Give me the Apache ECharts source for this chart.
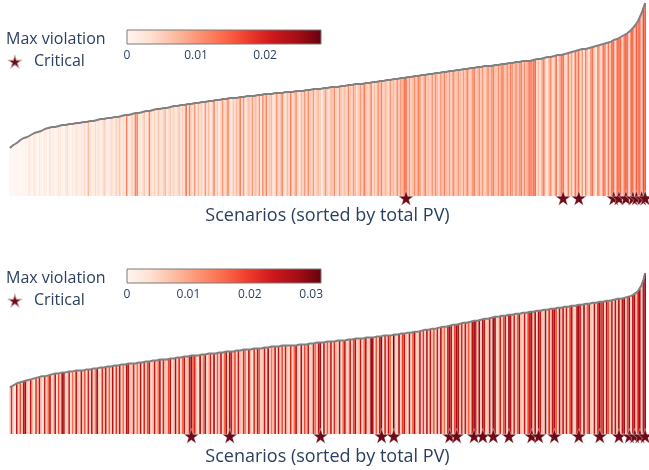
<!DOCTYPE html>
<html><head><meta charset="utf-8">
<script src="https://cdn.jsdelivr.net/npm/echarts@6/dist/echarts.min.js"></script>
<style>html,body{margin:0;padding:0;background:#fff}#c{width:649px;height:470px}</style>
</head><body><div id="c"></div>
<script>
// ---- Top panel: total PV per scenario (sorted), read as relative heights ----
const pvTop = [
48,50,51,52,53,55,56,57,58,59,
59,60,61,62,63,63,64,65,65,66,
67,67,68,68,69,69,69,70,70,70,
71,71,71,72,72,72,72,73,73,73,
73,74,74,74,74,75,75,75,75,76,
76,76,77,77,77,77,78,78,78,78,
79,79,79,80,80,80,81,81,81,82,
82,82,83,83,83,84,84,84,85,85,
85,86,86,86,87,87,87,88,88,88,
88,89,89,89,90,90,90,91,91,91,
91,92,92,92,92,93,93,93,93,94,
94,94,94,95,95,95,95,96,96,96,
96,96,97,97,97,97,98,98,98,98,
98,99,99,99,99,99,100,100,100,100,
100,101,101,101,101,101,102,102,102,102,
102,102,103,103,103,103,103,104,104,104,
104,104,104,104,105,105,105,105,105,106,
106,106,106,106,107,107,107,107,107,108,
108,108,108,108,109,109,109,109,109,110,
110,110,110,110,111,111,111,111,112,112,
112,112,112,113,113,113,113,114,114,114,
114,114,115,115,115,115,116,116,116,116,
117,117,117,117,118,118,118,118,119,119,
119,119,120,120,120,120,121,121,121,121,
122,122,122,122,123,123,123,123,124,124,
124,124,125,125,125,125,126,126,126,126,
127,127,127,127,128,128,128,128,129,129,
129,129,130,130,130,130,130,131,131,131,
131,131,132,132,132,132,133,133,133,133,
134,134,134,134,135,135,135,135,135,136,
136,136,137,137,137,138,138,138,139,139,
139,140,140,140,141,141,141,142,142,143,
143,143,144,144,145,145,146,146,147,147,
147,148,148,149,149,150,150,151,151,152,
152,153,153,154,154,155,156,156,157,158,
159,160,161,162,163,164,166,168,170,172,
175,179,183,188,193];
// Max violation per scenario, in units of 0.001
const violTopMilli = [
0,0,0,0,0,0,0,0,0,1, 0,2,1,0,3,1,0,2,1,0,
2,1,0,3,1,2,0,1,3,2, 1,0,2,4,1,0,2,1,3,2,
1,3,2,4,1,7,3,2,1,4, 2,3,1,2,5,3,1,2,4,3,
2,5,3,6,2,4,3,12,2,3, 5,4,12,11,3,2,4,6,3,2,
12,4,3,5,2,6,4,3,5,7, 2,4,6,3,5,2,4,6,3,5,
4,13,2,12,5,4,10,2,7,4, 5,2,10,4,7,2,5,11,4,6,
2,5,10,4,6,11,5,2,6,4, 7,5,12,4,10,2,5,7,4,10,
5,7,4,10,2,11,5,12,4,6, 7,2,5,10,4,6,11,5,2,7,
5,12,4,6,10,5,2,7,5,10, 4,11,6,5,10,4,6,7,5,2,
6,10,5,4,7,6,11,5,4,10, 6,5,7,4,11,6,5,10,7,4,
6,10,5,12,7,5,6,11,4,7, 5,10,6,12,5,7,6,4,10,6,
7,5,11,6,10,7,13,14,6,10, 5,7,11,6,12,10,5,7,12,6,
7,5,10,6,11,7,5,10,6,12, 7,6,10,5,11,7,6,10,7,5,
10,6,11,7,5,10,12,6,7,11, 6,10,5,7,11,6,10,12,7,6,
11,7,12,10,6,11,7,12,10,6, 11,7,10,12,6,11,7,10,13,11,
13,14,4,7,3,9,12,5,3,8, 11,4,6,13,3,8,13,13,5,4,
12,5,9,3,13,8,13,4,10,3, 12,6,4,11,13,5,3,12,8,4,
13,12,4,13,6,14,14,4,13,14, 14,5,12,15,13,4,14,14,6,15, 12,14,5,16,15];
const criticalTop = [227,317,326,346,349,353,357,359,362,364];

// ---- Bottom panel ----
const pvBottom = [
47,48,49,50,51,52,52,53,53,54,
54,55,55,56,56,57,57,57,58,58,
58,59,59,60,60,60,61,61,61,61,
62,62,62,62,63,63,63,63,64,64,
64,64,64,65,65,65,65,66,66,66,
66,66,67,67,67,67,68,68,68,68,
69,69,69,69,70,70,70,70,71,71,
71,71,71,72,72,72,72,73,73,73,
73,73,74,74,74,74,75,75,75,75,
75,76,76,76,76,77,77,77,77,78,
78,78,78,78,79,79,79,79,79,80,
80,80,80,80,81,81,81,81,81,82,
82,82,82,82,83,83,83,83,83,84,
84,84,84,84,85,85,85,85,85,86,
86,86,86,86,86,87,87,87,87,87,
88,88,88,88,88,89,89,89,89,89,
89,89,89,89,89,90,90,90,90,90,
90,91,91,91,91,91,92,92,92,92,
92,92,93,93,93,93,93,94,94,94,
94,94,94,95,95,95,95,95,96,96,
96,96,96,96,97,97,97,97,97,98,
98,98,98,98,99,99,99,99,99,100,
100,100,100,101,101,101,101,102,102,102,
102,103,103,103,103,104,104,104,105,105,
105,105,106,106,106,107,107,107,108,108,
108,109,109,109,110,110,110,111,111,111,
112,112,112,113,113,113,114,114,114,115,
115,115,116,116,116,117,117,117,118,118,
118,118,119,119,119,119,120,120,120,120,
121,121,121,121,122,122,122,122,123,123,
123,123,124,124,124,124,125,125,125,125,
126,126,126,126,127,127,127,127,128,128,
128,128,129,129,129,129,130,130,130,130,
131,131,131,131,132,132,132,132,133,133,
133,133,134,134,134,135,135,135,136,136,
136,137,137,138,138,139,139,140,141,142,
144,146,150,155,162];
const violBottomMilli = [
4,22,6,3,25,5,18,7,26,27, 6,5,24,8,4,20,6,25,7,3,
23,6,15,26,5,8,24,4,19,6, 27,25,5,7,22,4,16,6,24,8,
5,26,7,18,4,23,6,25,5,14, 27,6,4,22,8,24,5,17,6,26,
4,21,7,25,6,16,5,27,24,6, 8,23,5,15,7,26,4,22,6,18,
25,5,7,24,6,14,26,4,23,8, 6,19,25,5,7,27,6,21,4,16,
24,6,8,25,28,17,22,7,4,26, 6,15,25,5,8,23,6,27,4,18,
7,24,5,16,26,6,27,23,8,19, 5,25,7,6,22,14,5,26,8,4,
21,6,25,17,5,7,24,6,27,5, 15,8,23,4,26,6,18,5,24,7,
6,22,5,16,25,7,4,27,6,19, 8,24,5,6,23,15,7,26,28,4,
25,6,18,7,24,5,22,8,6,27, 4,16,25,6,7,23,5,19,26,6,
7,24,5,15,26,6,8,28,27,5, 18,6,24,29,4,22,6,25,16,5,
31,7,6,26,5,19,24,8,4,25, 6,17,27,5,7,24,6,21,5,26,
6,25,7,18,5,24,6,27,8,16, 5,23,28,25,6,19,28,26,7,22,
5,24,8,17,6,26,28,23,7,28, 6,27,24,5,8,25,6,28,27,5,
7,23,6,18,25,5,28,26,6,22, 5,17,27,7,6,24,5,19,25,27,
8,26,5,28,24,7,6,28,5,21, 7,25,27,18,5,27,8,23,6,24,
5,19,26,7,6,25,28,22,5,27, 6,17,24,7,5,26,6,23,28,20,
25,6,27,18,7,24,5,26,8,28, 6,25,28,7,19,28,5,24,27,8, 23,28,6,25,28];
const criticalBottom = [104,126,178,213,220,252,256,266,271,277,286,299,303,312,326,338,349,355,358,361,364];

// colour bar ranges (max violation) and ticks
const colorMaxTop = 0.0281;
const colorMaxBottom = 0.0316;
const colorTickStep = 0.01;
const axisTitle = 'Scenarios (sorted by total PV)';
const legendTitle = 'Max violation';
const criticalLabel = 'Critical';

const REDS = ['rgb(255,245,240)','rgb(254,224,210)','rgb(252,187,161)','rgb(252,146,114)','rgb(251,106,74)','rgb(239,59,44)','rgb(203,24,29)','rgb(165,15,21)','rgb(103,0,13)'];
const STAR = 'path://M50,0 L61.2,34.5 L97.6,34.5 L68.2,55.9 L79.4,90.5 L50,69.1 L20.6,90.5 L31.8,55.9 L2.4,34.5 L38.8,34.5 Z';
const TXT = '#2a3f5f';
const FONT = '"Open Sans", Verdana, Arial, sans-serif';

const gradient = {type:'linear', x:0, y:0, x2:1, y2:0,
  colorStops: REDS.map((c,i)=>({offset:i/(REDS.length-1), color:c}))};

function mainAxes(gi, n, gap) {
  return {
    x: {type:'category', gridIndex:gi, data: Array.from({length:n},(_,i)=>String(i)),
        boundaryGap:true, axisLine:{show:false}, axisTick:{show:false}, axisLabel:{show:false},
        splitLine:{show:false}, name: axisTitle, nameLocation:'middle', nameGap: gap,
        nameTextStyle:{fontSize:18, color:TXT, fontFamily:FONT}},
    y: {type:'value', gridIndex:gi, show:false, min:0, max:'dataMax'}
  };
}
function cbAxes(gi, max) {
  return {
    x: {type:'value', gridIndex:gi, min:0, max:max, interval:colorTickStep,
        axisLine:{show:false}, axisTick:{show:false}, splitLine:{show:false},
        axisLabel:{show:true, showMaxLabel:false, showMinLabel:true, fontSize:12, color:TXT, fontFamily:FONT, margin:6,
                   formatter: v => String(+v.toFixed(3))}},
    y: {type:'value', gridIndex:gi, show:false, min:0, max:1}
  };
}
function panelSeries(gi, pv, viol, crit) {
  return [
    {type:'bar', xAxisIndex:gi, yAxisIndex:gi, data: pv.map((v,i)=>[i, v, viol[i]]),
     encode:{x:0, y:1}, barWidth:'100%', barCategoryGap:'0%', z:2, large:false},
    {type:'line', xAxisIndex:gi, yAxisIndex:gi, data: pv, symbol:'none', showSymbol:false,
     lineStyle:{color:'#808080', width:2}, itemStyle:{color:'#808080'}, z:3},
    {type:'scatter', name:criticalLabel, xAxisIndex:gi, yAxisIndex:gi, data: crit.map(i=>[i, 0]),
     symbol:STAR, symbolSize:15, symbolOffset:[0,2],
     itemStyle:{color:'#6d0a16', borderColor:'rgba(255,255,255,0.6)', borderWidth:0.6, opacity:1}, z:4}
  ];
}

const a0 = mainAxes(0, pvTop.length, 11);
const a1 = mainAxes(1, pvBottom.length, 14);
const c0 = cbAxes(2, colorMaxTop);
const c1 = cbAxes(3, colorMaxBottom);

const chart = echarts.init(document.getElementById('c'), null, {renderer:'canvas'});
chart.setOption({
  animation:false,
  backgroundColor:'#fff',
  textStyle:{fontFamily:FONT},
  title:[
    {text:legendTitle, left:6, top:31, padding:0, textStyle:{fontSize:16, fontWeight:'normal', color:TXT, fontFamily:FONT}},
    {text:legendTitle, left:6, top:270, padding:0, textStyle:{fontSize:16, fontWeight:'normal', color:TXT, fontFamily:FONT}}
  ],
  legend:[
    {data:[{name:criticalLabel, icon:STAR}], left:6, top:53, padding:0, itemWidth:16, itemHeight:15,
     textStyle:{fontSize:16, color:TXT, fontFamily:FONT, padding:[0,0,0,6]}, selectedMode:false},
    {data:[{name:criticalLabel, icon:STAR}], left:6, top:292, padding:0, itemWidth:16, itemHeight:15,
     textStyle:{fontSize:16, color:TXT, fontFamily:FONT, padding:[0,0,0,6]}, selectedMode:false}
  ],
  grid:[
    {left:9, right:3, top:3, height:193},
    {left:9, right:3, top:273, height:161},
    {left:127, width:194, top:30, height:14, show:true, backgroundColor:gradient, borderColor:'#7a7a7a', borderWidth:1},
    {left:127, width:194, top:269, height:14, show:true, backgroundColor:gradient, borderColor:'#7a7a7a', borderWidth:1}
  ],
  xAxis:[a0.x, a1.x, c0.x, c1.x],
  yAxis:[a0.y, a1.y, c0.y, c1.y],
  visualMap:[
    {type:'continuous', show:false, seriesIndex:0, dimension:2, min:0, max:colorMaxTop*1000, inRange:{color:REDS}},
    {type:'continuous', show:false, seriesIndex:3, dimension:2, min:0, max:colorMaxBottom*1000, inRange:{color:REDS}}
  ],
  series:[].concat(
    panelSeries(0, pvTop, violTopMilli, criticalTop),
    panelSeries(1, pvBottom, violBottomMilli, criticalBottom)
  )
});
</script>
</body></html>
